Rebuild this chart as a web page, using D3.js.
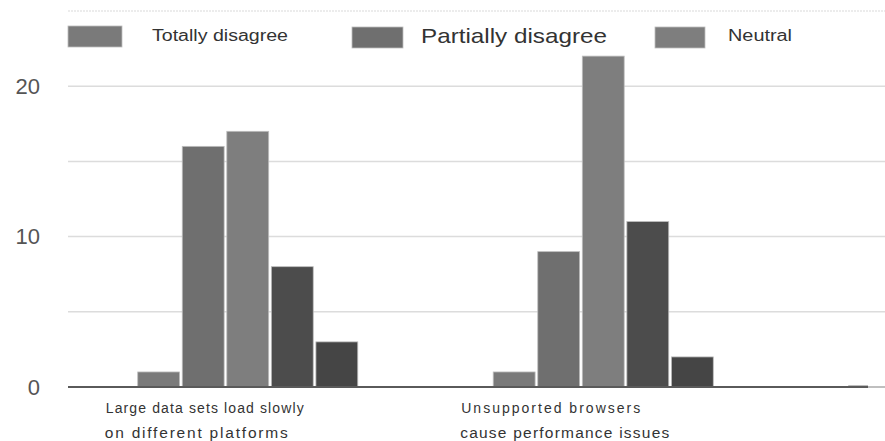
<!DOCTYPE html>
<html>
<head>
<meta charset="utf-8">
<script src="https://cdn.jsdelivr.net/npm/d3@7"></script>
<style>
  html, body { margin: 0; padding: 0; background: #fff; }
  svg { display: block; font-family: "Liberation Sans", Arial, sans-serif; }
</style>
</head>
<body>
<svg id="chart" width="885" height="441"></svg>
<script>
// Survey responses per statement
const categories = [
  ["Large data sets load slowly", "on different platforms"],
  ["Unsupported browsers", "cause performance issues"],
  ["", ""]
];
const seriesNames = ["Totally disagree", "Partially disagree", "Neutral", "Partially agree", "Totally agree"];
const seriesValues = [
  [1, 1, 0.1],    // Totally disagree
  [16, 9, 0],     // Partially disagree
  [17, 22, 0],    // Neutral
  [8, 11, 0],     // Partially agree
  [3, 2, 0]       // Totally agree
];
const gridTicks = [0, 5, 10, 15, 20, 25];
const labelTicks = [0, 10, 20];
const legendShown = ["Totally disagree", "Partially disagree", "Neutral"];

const colors = ["#7a7a7a", "#6f6f6f", "#7e7e7e", "#4c4c4c", "#454545"];
// Rendered widths of the wrapped category label lines
const labelWidths = [[198, 183], [179, 209], [0, 0]];

const svg = d3.select("#chart");
const plotLeft = 68, plotRight = 868;

const y = d3.scaleLinear().domain([0, 25]).range([387, 11]);

const x0 = d3.scaleBand()
  .domain(d3.range(categories.length))
  .range([70, 70 + 355.5 * categories.length])
  .paddingInner(0.381)
  .paddingOuter(0.1905);

const x1 = d3.scaleBand()
  .domain(d3.range(seriesNames.length))
  .range([0, x0.bandwidth()])
  .paddingInner(0.06)
  .paddingOuter(0);

// Gridlines
svg.append("g")
  .selectAll("line")
  .data(gridTicks.filter(d => d > 0))
  .join("line")
  .attr("x1", plotLeft).attr("x2", 885)
  .attr("y1", d => y(d)).attr("y2", d => y(d))
  .attr("stroke", d => d === 25 ? "#e6e6e6" : "#dcdcdc")
  .attr("stroke-width", 1.5)
  .attr("stroke-dasharray", d => d === 25 ? "2,1" : null);

// Y axis labels
const yAxis = d3.axisLeft(y).tickValues(labelTicks).tickSize(0).tickPadding(0);
const yg = svg.append("g").attr("transform", "translate(40,0)").call(yAxis);
yg.select(".domain").remove();
yg.selectAll("text")
  .attr("font-size", 22)
  .attr("fill", "#555")
  .attr("font-family", "Liberation Sans, Arial, sans-serif");

// Bars, clipped at the plot's right edge
svg.append("clipPath").attr("id", "plotClip")
  .append("rect").attr("x", plotLeft).attr("y", 0)
  .attr("width", plotRight - plotLeft).attr("height", 441);

const barsG = svg.append("g").attr("clip-path", "url(#plotClip)");
seriesValues.forEach((vals, s) => {
  barsG.append("g")
    .selectAll("rect")
    .data(vals.map((v, c) => ({ v, c })).filter(d => d.v > 0))
    .join("rect")
    .attr("x", d => x0(d.c) + x1(s))
    .attr("width", x1.bandwidth())
    .attr("y", d => y(d.v))
    .attr("height", d => y(0) - y(d.v))
    .attr("fill", colors[s])
    .attr("stroke", "#bdbdbd")
    .attr("stroke-width", 0.8);
});

// Baseline
svg.append("line")
  .attr("x1", plotLeft).attr("x2", plotRight)
  .attr("y1", y(0)).attr("y2", y(0))
  .attr("stroke", "#5a5a5a").attr("stroke-width", 2);
svg.append("line")
  .attr("x1", plotRight).attr("x2", 885)
  .attr("y1", y(0)).attr("y2", y(0))
  .attr("stroke", "#aaa").attr("stroke-width", 1.5);

// Category labels (two lines each)
const catG = svg.append("g");
categories.forEach((lines, c) => {
  if (!lines[0]) return;
  const lx = x0(c) - 32;
  const t = catG.append("text").attr("fill", "#333");
  t.append("tspan").attr("x", lx).attr("y", 413)
    .attr("font-size", 14)
    .attr("textLength", labelWidths[c][0]).attr("lengthAdjust", "spacing")
    .text(lines[0]);
  t.append("tspan").attr("x", lx - 1).attr("y", 438)
    .attr("font-size", 15.5)
    .attr("textLength", labelWidths[c][1]).attr("lengthAdjust", "spacing")
    .text(lines[1]);
});

// Legend
const legendItems = [
  { name: legendShown[0], s: 0, x: 68, w: 54, tx: 152, fs: 16, tw: 136, y: 26 },
  { name: legendShown[1], s: 1, x: 352, w: 51, tx: 421, fs: 21, tw: 186, y: 27 },
  { name: legendShown[2], s: 2, x: 655, w: 50, tx: 728, fs: 16, tw: 64, y: 27 }
];
const lg = svg.append("g");
legendItems.forEach(d => {
  lg.append("rect")
    .attr("x", d.x).attr("y", d.y).attr("width", d.w).attr("height", 21)
    .attr("fill", colors[d.s]).attr("stroke", "#bdbdbd").attr("stroke-width", 0.8);
  lg.append("text")
    .attr("x", d.tx).attr("y", 37)
    .attr("dominant-baseline", "middle")
    .attr("font-size", d.fs)
    .attr("fill", "#333")
    .attr("textLength", d.tw)
    .attr("lengthAdjust", "spacingAndGlyphs")
    .text(d.name);
});
</script>
</body>
</html>
